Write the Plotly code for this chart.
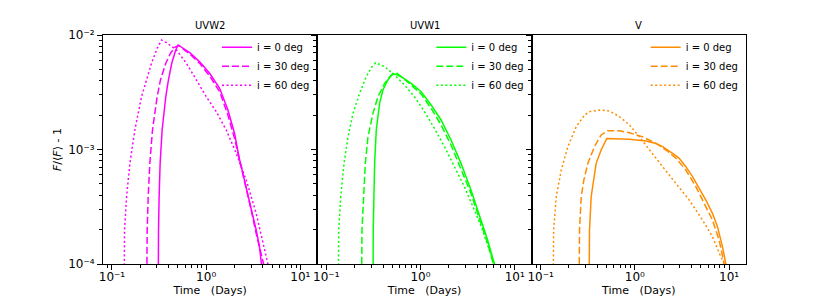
import plotly.graph_objects as go

# ---------------- data (days, F/<F> - 1) ----------------
bands = ["UVW2", "UVW1", "V"]
colors = ["#ff00ff", "#00ff00", "#ff8c00"]
angle_labels = ["i = 0 deg", "i = 30 deg", "i = 60 deg"]

uvw2_t0 = [0.309, 0.309, 0.312, 0.3168, 0.3246, 0.3408, 0.3727, 0.3978, 0.4313, 0.4755, 0.5034, 0.669, 0.853, 1.089, 1.389, 1.702, 2.003, 2.226, 2.556, 3.005, 3.395, 3.682, 3.898, 4.05]
uvw2_f0 = [3e-5, 1.01e-4, 1.98e-4, 3.87e-4, 7.57e-4, 1.48e-3, 2.89e-3, 4.05e-3, 5.66e-3, 7.40e-3, 8.18e-3, 7.01e-3, 5.85e-3, 4.63e-3, 3.42e-3, 2.21e-3, 1.38e-3, 8.66e-4, 5.42e-4, 3.17e-4, 1.98e-4, 1.42e-4, 1.01e-4, 7e-5]
uvw2_t30 = [0.2327, 0.2327, 0.2365, 0.2424, 0.2524, 0.2693, 0.3018, 0.3273, 0.3727, 0.4176, 0.4642, 0.5117, 0.669, 0.853, 1.089, 1.389, 1.702, 2.003, 2.226, 2.556, 3.005, 3.395, 3.773, 4.058, 4.25]
uvw2_f30 = [3e-5, 1.01e-4, 1.98e-4, 3.87e-4, 7.57e-4, 1.48e-3, 2.89e-3, 4.05e-3, 5.66e-3, 6.92e-3, 7.80e-3, 8.10e-3, 6.83e-3, 5.66e-3, 4.39e-3, 3.20e-3, 2.00e-3, 1.25e-3, 8.66e-4, 5.24e-4, 2.96e-4, 1.85e-4, 1.33e-4, 1.01e-4, 7e-5]
uvw2_t60 = [0.134, 0.134, 0.136, 0.143, 0.155, 0.175, 0.206, 0.263, 0.302, 0.3354, 0.379, 0.4834, 0.617, 0.787, 1.004, 1.281, 1.634, 2.085, 2.661, 3.395, 3.995, 4.51, 4.8]
uvw2_f60 = [3e-5, 1.01e-4, 1.98e-4, 3.87e-4, 7.57e-4, 1.48e-3, 2.89e-3, 5.66e-3, 7.65e-3, 9.04e-3, 8.57e-3, 7.40e-3, 5.66e-3, 4.05e-3, 2.89e-3, 2.14e-3, 1.48e-3, 9.26e-4, 5.42e-4, 2.77e-4, 1.52e-4, 1.01e-4, 7e-5]

uvw1_t0 = [0.313, 0.313, 0.315, 0.3205, 0.326, 0.3394, 0.368, 0.399, 0.4508, 0.509, 0.624, 0.796, 1.016, 1.296, 1.654, 2.110, 2.692, 3.435, 4.383, 5.154, 6.066, 6.4]
uvw1_f0 = [3e-5, 1.01e-4, 1.98e-4, 3.87e-4, 7.57e-4, 1.48e-3, 2.53e-3, 3.31e-3, 4.05e-3, 4.63e-3, 4.33e-3, 3.78e-3, 3.20e-3, 2.45e-3, 1.81e-3, 1.21e-3, 7.57e-4, 4.43e-4, 2.42e-4, 1.62e-4, 1.01e-4, 7e-5]
uvw1_t30 = [0.2354, 0.2354, 0.2393, 0.2491, 0.2596, 0.277, 0.313, 0.3534, 0.4157, 0.481, 0.5524, 0.796, 1.016, 1.296, 1.654, 2.110, 2.692, 3.435, 4.383, 5.154, 5.919, 6.3]
uvw1_f30 = [3e-5, 1.01e-4, 1.98e-4, 3.87e-4, 7.57e-4, 1.29e-3, 2.07e-3, 2.89e-3, 3.78e-3, 4.39e-3, 4.69e-3, 3.66e-3, 3.05e-3, 2.29e-3, 1.64e-3, 1.095e-3, 6.85e-4, 4.14e-4, 2.26e-4, 1.52e-4, 1.01e-4, 7e-5]
uvw1_t60 = [0.1333, 0.1333, 0.1355, 0.1422, 0.1543, 0.1701, 0.1921, 0.2261, 0.2659, 0.3053, 0.3338, 0.4157, 0.5305, 0.6767, 0.8633, 1.102, 1.405, 1.794, 2.288, 2.920, 3.725, 4.563, 5.370, 6.066, 6.4]
uvw1_f60 = [3e-5, 1.01e-4, 1.98e-4, 3.87e-4, 7.57e-4, 1.29e-3, 2.07e-3, 3.10e-3, 4.33e-3, 5.29e-3, 5.73e-3, 5.29e-3, 4.47e-3, 3.66e-3, 2.89e-3, 2.14e-3, 1.53e-3, 1.06e-3, 7.08e-4, 4.74e-4, 2.96e-4, 1.98e-4, 1.33e-4, 1.01e-4, 7e-5]

v_t0 = [0.3249, 0.3249, 0.3304, 0.344, 0.364, 0.3886, 0.4388, 0.5039, 0.8754, 1.314, 1.676, 1.972, 2.516, 2.960, 3.482, 4.097, 4.819, 5.669, 6.668, 7.532, 8.510, 9.228, 9.5]
v_f0 = [3e-5, 1.01e-4, 1.98e-4, 3.87e-4, 5.42e-4, 7.57e-4, 9.90e-4, 1.25e-3, 1.227e-3, 1.187e-3, 1.13e-3, 1.06e-3, 9.26e-4, 8.38e-4, 7.08e-4, 5.79e-4, 4.58e-4, 3.62e-4, 2.77e-4, 2.12e-4, 1.42e-4, 1.01e-4, 7e-5]
v_t30 = [0.2547, 0.2547, 0.2588, 0.2697, 0.2877, 0.3172, 0.373, 0.4388, 0.5163, 0.6862, 0.8754, 1.211, 1.676, 2.139, 2.729, 3.482, 4.443, 5.443, 6.668, 7.845, 8.862, 9.3]
v_f30 = [3e-5, 1.01e-4, 1.98e-4, 3.87e-4, 5.42e-4, 7.57e-4, 1.06e-3, 1.34e-3, 1.46e-3, 1.46e-3, 1.40e-3, 1.29e-3, 1.13e-3, 9.90e-4, 8.38e-4, 6.62e-4, 4.74e-4, 3.39e-4, 2.42e-4, 1.62e-4, 1.01e-4, 7e-5]
v_t60 = [0.1352, 0.1352, 0.1374, 0.1466, 0.1656, 0.1949, 0.2386, 0.2924, 0.3304, 0.4213, 0.5378, 0.6862, 0.8754, 1.117, 1.425, 1.972, 2.729, 3.776, 5.226, 6.668, 8.17, 8.862, 9.3]
v_f60 = [3e-5, 1.01e-4, 1.98e-4, 3.87e-4, 6.62e-4, 1.06e-3, 1.58e-3, 2.00e-3, 2.14e-3, 2.21e-3, 2.17e-3, 1.94e-3, 1.64e-3, 1.29e-3, 9.90e-4, 7.08e-4, 5.06e-4, 3.62e-4, 2.42e-4, 1.73e-4, 1.16e-4, 1.01e-4, 7e-5]

x_tickvals = [0.1, 1, 10]
x_ticktext = ["10\u207b\u00b9", "10\u2070", "10\u00b9"]
y_tickvals = [1e-4, 1e-3, 1e-2]
y_ticktext = ["10\u207b\u2074", "10\u207b\u00b3", "10\u207b\u00b2"]

series = [
    [(uvw2_t0, uvw2_f0), (uvw2_t30, uvw2_f30), (uvw2_t60, uvw2_f60)],
    [(uvw1_t0, uvw1_f0), (uvw1_t30, uvw1_f30), (uvw1_t60, uvw1_f60)],
    [(v_t0, v_f0), (v_t30, v_f30), (v_t60, v_f60)],
]
dashes = ["solid", "7px,3px", "2px,2.5px"]

FONT = "DejaVu Sans"
fig = go.Figure()

minor_x = [k * 10.0 ** e for e in (-2, -1, 0, 1) for k in range(2, 10)]
minor_y = [k * 10.0 ** e for e in (-5, -4, -3) for k in range(2, 10)]

legend_names = ["legend", "legend2", "legend3"]
domains = [[0, 1 / 3], [1 / 3, 2 / 3], [2 / 3, 1]]

for p in range(3):
    xa = "x" if p == 0 else f"x{p+1}"
    ya = "y" if p == 0 else f"y{p+1}"
    for a in range(3):
        t, f = series[p][a]
        fig.add_trace(go.Scatter(
            x=t, y=f, mode="lines", name=angle_labels[a],
            line=dict(color=colors[p], width=1.5, dash=dashes[a]),
            xaxis=xa, yaxis=ya, legend=legend_names[p],
        ))

layout = dict(
    width=830, height=297,
    margin=dict(l=103, r=84, t=35, b=33),
    paper_bgcolor="white", plot_bgcolor="white",
    font=dict(family=FONT, size=11, color="black"),
    showlegend=True,
)

for p in range(3):
    xk = "xaxis" if p == 0 else f"xaxis{p+1}"
    yk = "yaxis" if p == 0 else f"yaxis{p+1}"
    layout[xk] = dict(
        type="log", range=[-1.095, 1.18], domain=domains[p],
        anchor="y" if p == 0 else f"y{p+1}",
        showline=True, mirror=True, linecolor="black", linewidth=1,
        ticks="outside", ticklen=5, tickwidth=1, tickcolor="black",
        tickvals=x_tickvals, ticktext=x_ticktext,
        tickfont=dict(size=12, family=FONT), ticklabelstandoff=-3,
        showgrid=False, zeroline=False,
        minor=dict(tickvals=minor_x, ticks="outside", ticklen=3, tickcolor="black", tickwidth=1, showgrid=False),
        title=dict(text="Time   (Days)", font=dict(size=11, family=FONT), standoff=3),
        automargin=False,
    )
    layout[yk] = dict(
        type="log", range=[-4, -2], domain=[0, 1],
        anchor="x" if p == 0 else f"x{p+1}",
        showline=True, mirror=True, linecolor="black", linewidth=1,
        ticks="outside", ticklen=5, tickwidth=1, tickcolor="black",
        tickvals=y_tickvals, ticktext=y_ticktext,
        showticklabels=(p == 0),
        tickfont=dict(size=12, family=FONT),
        showgrid=False, zeroline=False,
        minor=dict(tickvals=minor_y, ticks="outside", ticklen=3, tickcolor="black", tickwidth=1, showgrid=False),
        automargin=False,
    )
    if p == 0:
        layout[yk]["title"] = dict(text="<i>F</i>/\u27e8<i>F</i>\u27e9 - 1", font=dict(size=11, family=FONT), standoff=4)
    layout[legend_names[p]] = dict(
        x=0.1773 + p * (1 / 3), y=1.01, xanchor="left", yanchor="top",
        bgcolor="rgba(0,0,0,0)", borderwidth=0,
        font=dict(size=10, family=FONT), itemwidth=30, tracegroupgap=0,
    )

fig.update_layout(**layout)

for p in range(3):
    fig.add_annotation(
        text=bands[p], xref="paper", yref="paper",
        x=(p + 0.5) / 3, y=1, xanchor="center", yanchor="bottom", yshift=2,
        showarrow=False, font=dict(size=10, family=FONT, color="black"),
    )

fig.write_html(
    "out.html",
    config={"displayModeBar": False},
    post_script="document.body.style.margin='0';document.body.style.overflow='hidden';",
)
